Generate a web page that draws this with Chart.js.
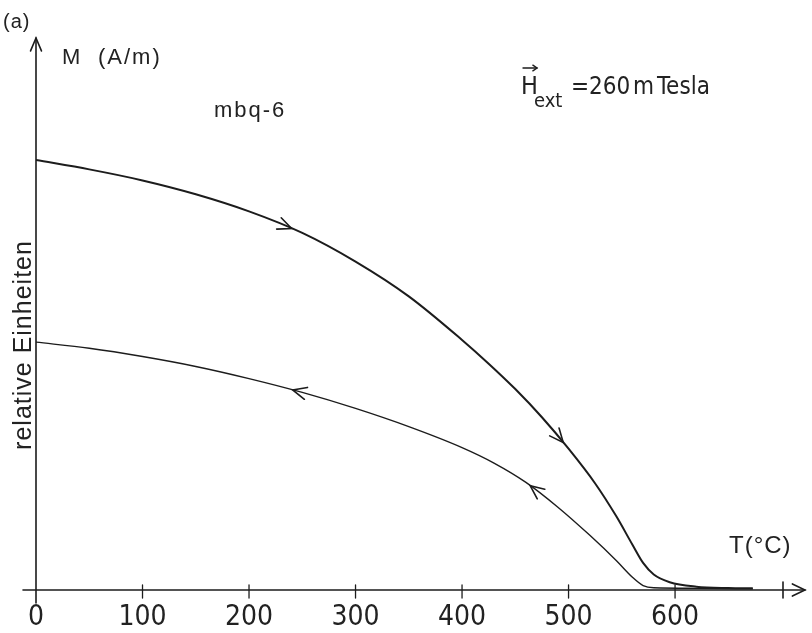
<!DOCTYPE html>
<html>
<head>
<meta charset="utf-8">
<script src="https://cdn.jsdelivr.net/npm/chart.js@4.4.0/dist/chart.umd.min.js"></script>
<style>
  html, body { margin: 0; padding: 0; background: #fff }
</style>
</head>
<body>
<canvas id="c" width="812" height="633"></canvas>
<script>
// heating run (T in °C, M in relative units)
const heatT = [0, 50, 100, 150, 200, 250, 300, 350, 400, 425, 450, 475, 500, 525, 545, 560, 570, 580, 595, 620, 650, 673]
const heatM = [77.9, 76.2, 74.2, 71.7, 68.6, 64.7, 59.5, 53.2, 45.3, 41.0, 36.4, 31.3, 25.6, 19.3, 13.3, 8.2, 4.9, 2.8, 1.4, 0.6, 0.35, 0.3]

// cooling run
const coolT = [0, 50, 100, 150, 200, 250, 300, 350, 400, 430, 460, 490, 520, 545, 560, 570, 580, 620, 673]
const coolM = [44.9, 43.8, 42.3, 40.5, 38.3, 35.8, 32.9, 29.6, 25.8, 23.0, 19.5, 15.0, 9.9, 5.3, 2.3, 0.8, 0.4, 0.3, 0.2]

const tickLabels = [0, 100, 200, 300, 400, 500, 600]

// where the direction arrows sit on each curve (T values)
const heatArrows = [240, 495]
const coolArrows = [241, 464]

const ink = '#1c1c1c'
const narrow = '"DejaVu Sans Condensed", "Liberation Sans", sans-serif'
const plain = '"Liberation Sans", sans-serif'

function pairs(xs, ys) {
  return xs.map((x, i) => ({ x: x, y: ys[i] }))
}

// open chevron with its tip at (x,y), pointing along (dx,dy)
function chevron(ctx, x, y, dx, dy, len, ang) {
  const a = Math.atan2(dy, dx)
  ctx.beginPath()
  ctx.moveTo(x - len * Math.cos(a - ang), y - len * Math.sin(a - ang))
  ctx.lineTo(x, y)
  ctx.lineTo(x - len * Math.cos(a + ang), y - len * Math.sin(a + ang))
  ctx.stroke()
}

const decor = {
  id: 'decor',
  afterDatasetsDraw(chart) {
    const ctx = chart.ctx
    const xs = chart.scales.x
    const ys = chart.scales.y
    const x0 = xs.getPixelForValue(0)
    const y0 = ys.getPixelForValue(0)
    const xEnd = xs.getPixelForValue(xs.max)
    const yTop = ys.getPixelForValue(ys.max)

    ctx.save()
    ctx.strokeStyle = ink
    ctx.lineCap = 'round'

    // axes
    ctx.lineWidth = 1.6
    ctx.beginPath()
    ctx.moveTo(x0 - 13, y0)
    ctx.lineTo(xEnd, y0)
    ctx.moveTo(x0, y0 + 13)
    ctx.lineTo(x0, yTop)
    ctx.stroke()
    chevron(ctx, xEnd, y0, 1, 0, 14, 0.45)
    chevron(ctx, x0, yTop, 0, -1, 14, 0.4)
    ctx.beginPath()
    ctx.moveTo(xEnd - 22, y0 - 8)
    ctx.lineTo(xEnd - 22, y0 + 8)
    ctx.stroke()

    // tick marks
    ctx.lineWidth = 1.3
    tickLabels.forEach(v => {
      if (v === 0) return
      const px = xs.getPixelForValue(v)
      ctx.beginPath()
      ctx.moveTo(px, y0 - 5)
      ctx.lineTo(px, y0 + 8)
      ctx.stroke()
    })

    // direction arrows on the curves
    const marks = [[0, heatArrows, 1], [1, coolArrows, -1]]
    marks.forEach(([di, list, dir]) => {
      const pts = chart.getDatasetMeta(di).data
      const src = chart.data.datasets[di].data
      list.forEach(t => {
        let i = 0
        while (i < src.length - 2 && src[i + 1].x < t) i++
        const a = pts[i], b = pts[i + 1]
        const f = (t - src[i].x) / (src[i + 1].x - src[i].x)
        const px = a.x + (b.x - a.x) * f
        const py = a.y + (b.y - a.y) * f
        ctx.lineWidth = 1.6
        chevron(ctx, px, py, (b.x - a.x) * dir, (b.y - a.y) * dir, 15, 0.42)
      })
    })

    // texts
    ctx.fillStyle = '#222'
    ctx.textBaseline = 'alphabetic'
    ctx.textAlign = 'left'
    ctx.letterSpacing = '1px'
    ctx.font = '20px ' + plain
    ctx.fillText('(a)', 3, 28)
    ctx.letterSpacing = '2px'
    ctx.font = '22px ' + plain
    ctx.fillText('M', 62, 64)
    ctx.fillText('(A/m)', 98, 64)
    ctx.fillText('mbq-6', 214, 117)
    ctx.letterSpacing = '1px'
    ctx.font = '24px ' + plain
    ctx.fillText('T(°C)', 729, 553)

    // H_ext label
    ctx.letterSpacing = '0px'
    ctx.font = '25px ' + narrow
    ctx.fillText('H', 521, 94)
    ctx.font = '24px ' + narrow
    ctx.fillText('=260', 571, 94)
    ctx.fillText('m', 633, 94)
    ctx.fillText('Tesla', 657, 94)
    ctx.font = '20px ' + narrow
    ctx.fillText('ext', 534, 107)
    ctx.lineWidth = 1.4
    ctx.beginPath()
    ctx.moveTo(523, 68)
    ctx.lineTo(537, 68)
    ctx.stroke()
    chevron(ctx, 537, 68, 1, 0, 5, 0.6)

    // y label
    ctx.save()
    ctx.translate(24, 345)
    ctx.rotate(-Math.PI / 2)
    ctx.textAlign = 'center'
    ctx.textBaseline = 'middle'
    ctx.letterSpacing = '1px'
    ctx.font = '25px ' + plain
    ctx.fillText('relative Einheiten', 0, 0)
    ctx.restore()

    ctx.restore()
  }
}

new Chart(document.getElementById('c'), {
  type: 'line',
  data: {
    datasets: [
      {
        data: pairs(heatT, heatM),
        borderColor: ink,
        borderWidth: 2,
        pointRadius: 0,
        cubicInterpolationMode: 'monotone'
      },
      {
        data: pairs(coolT, coolM),
        borderColor: ink,
        borderWidth: 1.4,
        pointRadius: 0,
        cubicInterpolationMode: 'monotone'
      }
    ]
  },
  options: {
    responsive: false,
    animation: false,
    devicePixelRatio: 1,
    layout: { padding: { top: 38, right: 7, left: 0, bottom: 0 } },
    plugins: { legend: { display: false }, tooltip: { enabled: false } },
    scales: {
      x: {
        type: 'linear',
        min: 0,
        max: 722,
        afterFit(s) { s.height = 43 },
        afterBuildTicks(s) { s.ticks = tickLabels.map(v => ({ value: v })) },
        grid: { display: false },
        border: { display: false },
        ticks: {
          autoSkip: false,
          maxRotation: 0,
          padding: 3,
          color: '#222',
          font: { family: narrow, size: 28 }
        }
      },
      y: {
        min: 0,
        max: 100,
        afterFit(s) { s.width = 36 },
        grid: { display: false },
        border: { display: false },
        ticks: { display: false }
      }
    }
  },
  plugins: [decor]
})
</script>
</body>
</html>
